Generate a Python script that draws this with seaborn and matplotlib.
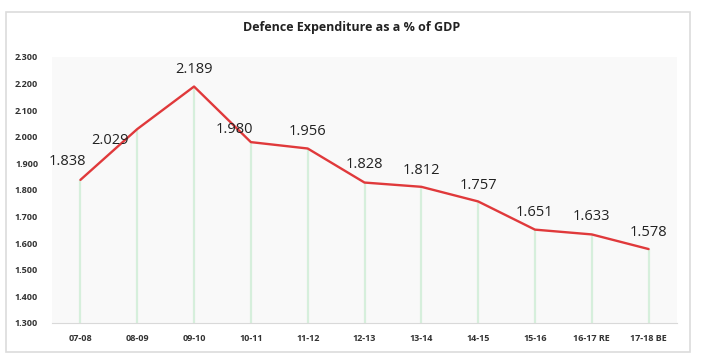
import matplotlib
matplotlib.use("Agg")
import matplotlib.pyplot as plt
import matplotlib.patches as mpatches
import seaborn as sns
import pandas as pd

years = ['07-08', '08-09', '09-10', '10-11', '11-12', '12-13', '13-14',
         '14-15', '15-16', '16-17 RE', '17-18 BE']
pct_gdp = [1.838, 2.029, 2.189, 1.980, 1.956, 1.828, 1.812, 1.757, 1.651, 1.633, 1.578]
y_ticks = [1.3, 1.4, 1.5, 1.6, 1.7, 1.8, 1.9, 2.0, 2.1, 2.2, 2.3]

df = pd.DataFrame({'year': years, 'pct': pct_gdp})
df['pos'] = range(len(df))

sns.set_style("white")
plt.rcParams['font.family'] = ['Open Sans', 'DejaVu Sans']

fig = plt.figure(figsize=(7.03, 3.58), dpi=100)
fig.patch.set_facecolor('white')
# outer frame of the chart box
fig.add_artist(mpatches.Rectangle((6 / 703, 6 / 358), 684 / 703, 340 / 358,
                                  transform=fig.transFigure, fill=False,
                                  edgecolor='#dcdcdc', linewidth=1.2))

ax = fig.add_axes([52 / 703, 35 / 358, 625 / 703, 266 / 358])
ax.set_facecolor('#f9f9f9')

# drop lines from each point to the axis
ax.vlines(df['pos'], 1.3, df['pct'], color='#d6efdc', linewidth=1.6, zorder=1)
sns.lineplot(data=df, x='pos', y='pct', ax=ax, color='#e0393b', linewidth=1.7,
             sort=False, zorder=3)

# value label offsets (points, label centre relative to the data point)
offsets = [(-9, 13.5), (-19.5, -8), (0, 12), (-12, 9), (0, 12), (0, 13),
           (0, 11.5), (0, 11.5), (0, 12), (0, 13), (0, 12)]
for x, y, off in zip(df['pos'], df['pct'], offsets):
    ax.annotate(f'{y:.3f}', (x, y), xytext=off, textcoords='offset points',
                ha='center', va='center', fontsize=10.5, color='#222222', zorder=4)

ax.set_xlim(-0.5, len(years) - 0.5)
ax.set_ylim(1.3, 2.3)
ax.set_xticks(df['pos'])
ax.set_xticklabels(years, fontsize=6.5, fontweight='bold', color='#333333')
ax.set_yticks(y_ticks)
ax.set_yticklabels([f'{v:.3f}' for v in y_ticks], fontsize=6.5,
                   fontweight='bold', color='#333333')
ax.tick_params(axis='both', length=0)
ax.tick_params(axis='y', pad=10)
ax.tick_params(axis='x', pad=8)
ax.set_xlabel('')
ax.set_ylabel('')
for side in ['top', 'right', 'left']:
    ax.spines[side].set_visible(False)
ax.spines['bottom'].set_color('#d9d9d9')

fig.text(0.5, 331 / 358, 'Defence Expenditure as a % of GDP', ha='center',
         va='center', fontsize=9, fontweight='bold', color='#222222')

fig.savefig('out.png', dpi=100)
